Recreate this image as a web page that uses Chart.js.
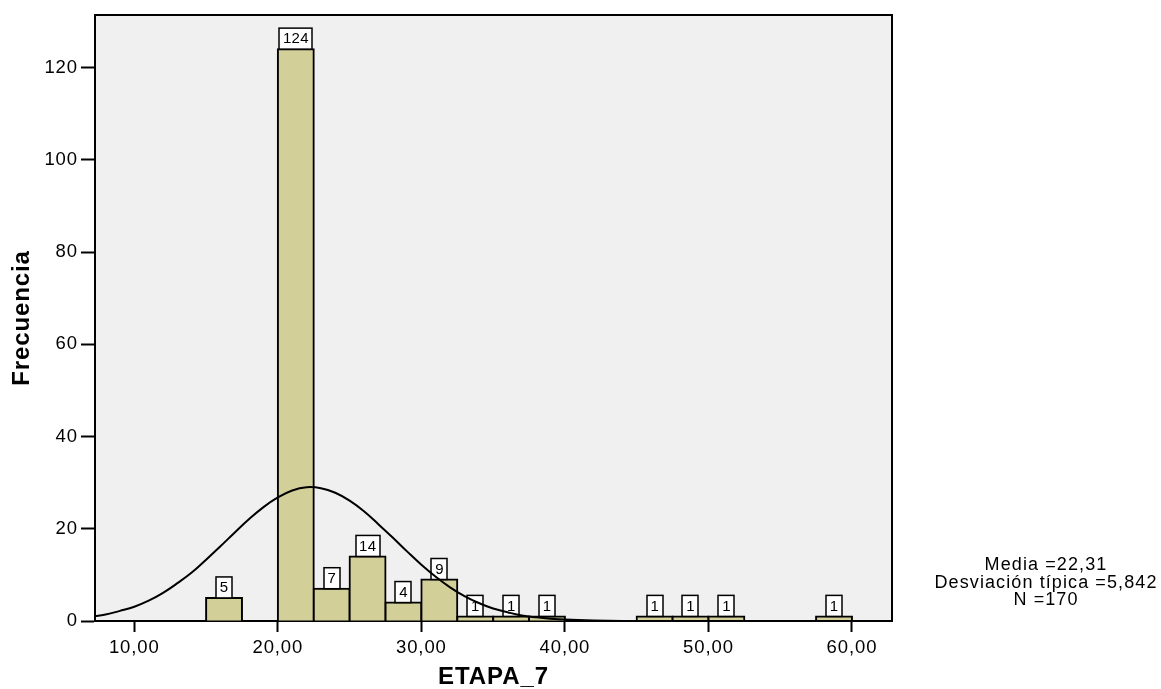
<!DOCTYPE html>
<html><head><meta charset="utf-8">
<script src="https://cdn.jsdelivr.net/npm/chart.js@4.4.1/dist/chart.umd.min.js"></script>
<style>html,body{margin:0;padding:0;background:#fff;}canvas{display:block;}</style>
</head><body>
<canvas id="c" width="1161" height="689" style="width:1161px;height:689px"></canvas>
<script>
// ---- data ----
const binCenters = [16.25, 21.25, 23.75, 26.25, 28.75, 31.25, 33.75, 36.25, 38.75, 46.25, 48.75, 51.25, 58.75];
const frequencies = [5, 124, 7, 14, 4, 9, 1, 1, 1, 1, 1, 1, 1];
const curveX = [7, 8, 9, 10, 11, 12, 13, 14, 15, 16, 17, 18, 19, 20, 21, 22, 23, 24, 25, 26, 27, 28, 29, 30, 31, 32, 33, 34, 35, 36, 37, 38, 39, 40, 42, 44, 46, 50, 55, 60, 63];
const curveY = [0.9, 1.4, 2.2, 3.1, 4.4, 6.1, 8.2, 10.5, 13.3, 16.2, 19.2, 22.1, 24.7, 26.8, 28.3, 29.0, 28.8, 27.8, 26.1, 23.8, 21.0, 18.1, 15.1, 12.2, 9.6, 7.3, 5.4, 3.9, 2.7, 1.9, 1.2, 0.8, 0.5, 0.3, 0.1, 0, 0, 0, 0, 0, 0];
const xTicks = [10, 20, 30, 40, 50, 60];
const yTicks = [0, 20, 40, 60, 80, 100, 120];
const statsLines = ['Media =22,31', 'Desviación típica =5,842', 'N =170'];
const xTitle = 'ETAPA_7';
const yTitle = 'Frecuencia';

const FONT = "'Liberation Sans', Arial, sans-serif";
Chart.defaults.font.family = FONT;
Chart.defaults.color = '#000';

const bgPlugin = {
  id: 'bg',
  beforeDraw(chart) {
    const {ctx, chartArea: a} = chart;
    ctx.letterSpacing = '0.9px';
    ctx.save();
    ctx.fillStyle = '#F0F0F0';
    ctx.fillRect(a.left, a.top, a.right - a.left, a.bottom - a.top);
    ctx.restore();
  }
};

const labelPlugin = {
  id: 'barLabels',
  afterDatasetDraw(chart, args) {
    if (args.index !== 1) return;
    const ctx = chart.ctx;
    const meta = args.meta;
    ctx.save();
    ctx.font = '15px ' + FONT;
    ctx.letterSpacing = '0.4px';
    ctx.textAlign = 'center';
    ctx.textBaseline = 'middle';
    meta.data.forEach((el, i) => {
      const txt = String(frequencies[i]);
      const w = Math.round(ctx.measureText(txt).width + 7);
      const h = 21;
      const x0 = Math.round(el.x - w / 2);
      const y1 = el.y;
      ctx.fillStyle = '#fff';
      ctx.fillRect(x0, y1 - h, w, h);
      ctx.strokeStyle = '#000';
      ctx.lineWidth = 1.5;
      ctx.strokeRect(x0, y1 - h, w, h);
      ctx.fillStyle = '#000';
      ctx.fillText(txt, el.x + 0.2, y1 - h / 2 + 0.5);
    });
    ctx.restore();
  }
};

const framePlugin = {
  id: 'frame',
  afterDatasetsDraw(chart) {
    const {ctx, chartArea: a} = chart;
    ctx.save();
    ctx.strokeStyle = '#000';
    ctx.lineWidth = 2;
    ctx.beginPath();
    ctx.moveTo(a.left, a.top);
    ctx.lineTo(a.right, a.top);
    ctx.lineTo(a.right, a.bottom);
    ctx.stroke();
    ctx.restore();
  },
  afterDraw(chart) {
    const ctx = chart.ctx;
    ctx.save();
    ctx.font = '18px ' + FONT;
    ctx.letterSpacing = '1.1px';
    ctx.fillStyle = '#000';
    ctx.textAlign = 'center';
    ctx.textBaseline = 'middle';
    const ys = [565.5, 583, 600.5];
    statsLines.forEach((t, i) => ctx.fillText(t, 1046, ys[i]));
    ctx.restore();
  }
};

new Chart(document.getElementById('c'), {
  data: {
    datasets: [
      {
        type: 'line',
        order: 0,
        data: curveX.map((x, i) => ({x, y: curveY[i]})),
        borderColor: '#000',
        borderWidth: 2,
        pointRadius: 0,
        fill: false,
        tension: 0.4
      },
      {
        type: 'bar',
        order: 1,
        data: binCenters.map((x, i) => ({x, y: frequencies[i]})),
        backgroundColor: '#D3CF98',
        borderColor: '#000',
        borderWidth: 2,
        inflateAmount: 1,
        borderSkipped: 'start',
        barPercentage: 1,
        categoryPercentage: 1
      }
    ]
  },
  options: {
    responsive: false,
    devicePixelRatio: 1,
    animation: false,
    layout: {padding: {left: 0, right: 269, top: 15, bottom: 0}},
    plugins: {legend: {display: false}, tooltip: {enabled: false}},
    scales: {
      x: {
        type: 'linear',
        position: 'bottom',
        min: 7.26,
        max: 62.79,
        offset: false,
        grid: {display: true, offset: false, drawOnChartArea: false, drawTicks: true, tickLength: 11, tickWidth: 2, tickColor: '#000'},
        border: {display: true, color: '#000', width: 2},
        ticks: {color: '#000', font: {size: 18.5}, padding: 5, autoSkip: false, maxRotation: 0,
          callback: v => v.toFixed(2).replace('.', ',')},
        afterBuildTicks: s => { s.ticks = xTicks.map(v => ({value: v})); },
        afterFit: s => { s.height = 68; },
        title: {display: true, text: xTitle, color: '#000', font: {size: 24, weight: 'bold'}, padding: {top: 0, bottom: -3}}
      },
      y: {
        type: 'linear',
        position: 'left',
        min: 0,
        max: 131.4,
        grid: {display: true, offset: false, drawOnChartArea: false, drawTicks: true, tickLength: 14, tickWidth: 2, tickColor: '#000'},
        border: {display: true, color: '#000', width: 2},
        ticks: {color: '#000', font: {size: 18.5}, padding: 3},
        afterBuildTicks: s => { s.ticks = yTicks.map(v => ({value: v})); },
        afterFit: s => { s.width = 95; },
        title: {display: true, text: yTitle, color: '#000', font: {size: 24, weight: 'bold'}, padding: {top: 8, bottom: 0}}
      }
    }
  },
  plugins: [bgPlugin, labelPlugin, framePlugin]
});
</script>
</body></html>
